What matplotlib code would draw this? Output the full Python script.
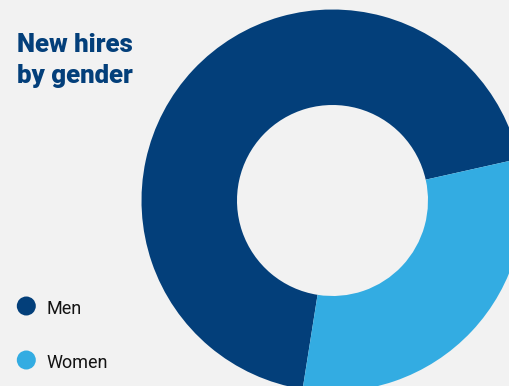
import matplotlib
matplotlib.use('Agg')
import matplotlib.pyplot as plt
from matplotlib.patches import Circle

# --- data
labels = ['Men', 'Women']
shares = [69, 31]
colors = ['#033f7a', '#33ace2']
title_lines = ['New hires', 'by gender']

bg = '#f2f2f2'
W, H = 509, 386

fig = plt.figure(figsize=(W / 100, H / 100), dpi=100, facecolor=bg)

# --- donut (centre and radius in pixels)
cx, cy, r = 332.5, 200.5, 191
ax = fig.add_axes([(cx - r) / W, (H - cy - r) / H, 2 * r / W, 2 * r / H])
ax.set_facecolor(bg)
ax.pie(shares, colors=colors, startangle=12.6, radius=1.0,
       wedgeprops=dict(width=0.5, linewidth=0))
ax.set_xlim(-1, 1)
ax.set_ylim(-1, 1)
ax.set_aspect('equal')
ax.axis('off')

# --- title
for i, line in enumerate(title_lines):
    fig.text(17 / W, 1 - (52.5 + 30 * i) / H, line, family='Roboto',
             fontweight='heavy', fontsize=18.5, color='#033f7a', va='baseline')

# --- legend
leg_y = [306, 360]
for lab, col, y in zip(labels, colors, leg_y):
    fig.add_artist(Circle((26.3, H - y), 9.5, transform=None,
                          facecolor=col, edgecolor='none'))
    fig.text(46 / W, 1 - (y + 8.5) / H, lab, family='Roboto',
             fontsize=13, color='#141414', va='baseline')

fig.savefig('out.png', dpi=100, facecolor=bg)
